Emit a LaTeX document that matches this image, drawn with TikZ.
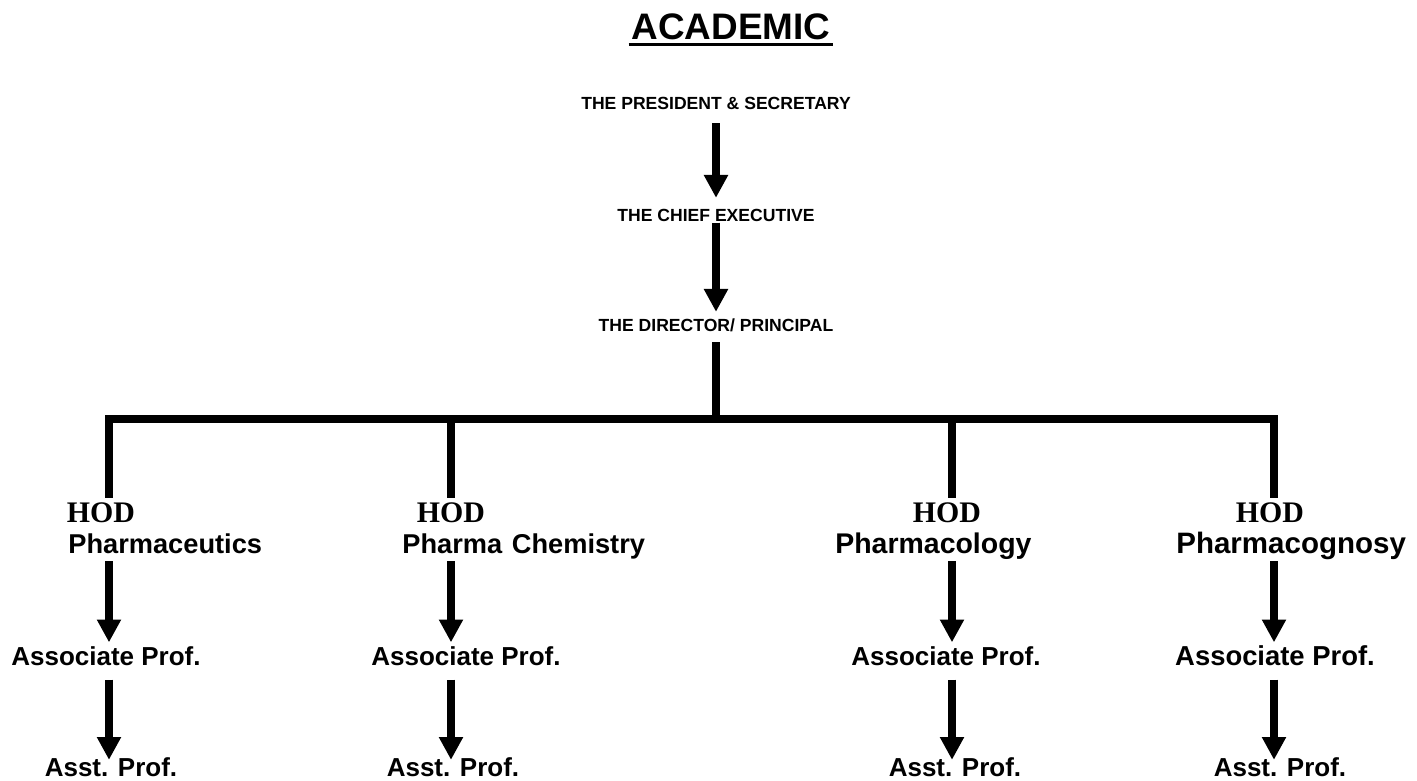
\documentclass[tikz,border=0pt]{standalone}
\usepackage{fontspec}
\setmainfont{Liberation Sans}
\newfontfamily\hodfont{Liberation Serif}
\usetikzlibrary{arrows.meta,calc}
\tikzset{heading/.style={
    inner sep=0pt,text depth=0pt,text height=15pt,
    font=\fontsize{21}{21}\selectfont\bfseries}}
\tikzset{boss/.style={
    inner sep=0pt,text depth=0pt,text height=7.2pt,
    font=\fontsize{10}{12}\selectfont\bfseries}}
\tikzset{hod/.style={
    inner sep=0pt,text depth=0pt,text height=11.25pt,
    font=\hodfont\fontsize{17}{17}\selectfont\bfseries}}
\tikzset{dept/.style={
    inner sep=0pt,text depth=0pt,text height=11.1pt,anchor=west,
    font=\fontsize{15.5}{16}\selectfont\bfseries}}
\tikzset{prof/.style={
    inner sep=0pt,text depth=0pt,text height=10.6pt,
    font=\fontsize{14.8}{16}\selectfont\bfseries}}
\tikzset{arrowdown/.style={
    line width=4.5pt,
    -{Triangle[width=13pt,length=13pt]}}}
\tikzset{link/.style={
    line width=4.5pt,
    line join=miter}}

\begin{document}
\begin{tikzpicture}[x=0.02cm,y=-0.02cm]
\useasboundingbox (0,0) rectangle (1417,781);

\coordinate (c0) at (716,419);
\coordinate (c1) at (109,419);
\coordinate (c2) at (451,419);
\coordinate (c3) at (952,419);
\coordinate (c4) at (1274,419);

\node[heading] (academic) at (731,26.5) {ACADEMIC};
\draw[line width=1.7pt] ([xshift=-1.5pt,yshift=-2.5pt]academic.south west) -- ([xshift=1pt,yshift=-2.5pt]academic.south east);

\node[boss] (pres) at (716,103) {THE PRESIDENT \& SECRETARY};
\node[boss] (chief) at (716,215) {THE CHIEF EXECUTIVE};
\node[boss] (dir) at (716,325.5) {THE DIRECTOR/ PRINCIPAL};

\draw[arrowdown,shorten <=0.27cm,shorten >=0.21cm] (pres) -- (chief);
\draw[arrowdown,shorten <=0.02cm,shorten >=0.14cm] (chief) -- (dir);
\draw[link,shorten <=0.2cm] (dir) -- (c0);

\node[hod] (hod1) at (101,513) {HOD};
\node[hod] (hod2) at (451,513) {HOD};
\node[hod] (hod3) at (947,513) {HOD};
\node[hod] (hod4) at (1270,513) {HOD};

\draw[link,shorten <=0.1cm,shorten >=0.1cm] (hod1.north -| c1) -- (c1) -- (c4) -- (hod4.north -| c4);
\draw[link,shorten >=0.1cm] (c2) -- (hod2.north -| c2);
\draw[link,shorten >=0.1cm] (c3) -- (hod3.north -| c3);

\node[dept] (pceutics) at (68,544) {Pharmaceutics};
\node[dept] (pchem) at (402,544) {Pharma\hspace{5.5pt}Chemistry};
\node[dept,font=\fontsize{16.2}{17}\selectfont\bfseries] (pcology) at (835,544) {Pharmacology};
\node[dept,font=\fontsize{16.8}{17}\selectfont\bfseries] (pcognosy) at (1176,544) {Pharmacognosy};

\node[prof] (assoc1) at (106,656) {Associate Prof.};
\node[prof] (assoc2) at (466,656) {Associate Prof.};
\node[prof] (assoc3) at (946,656) {Associate Prof.};
\node[prof,font=\fontsize{15.6}{16}\selectfont\bfseries] (assoc4) at (1275,656) {Associate Prof.};

\node[prof] (asst1) at (111,767) {Asst. Prof.};
\node[prof] (asst2) at (453,767) {Asst. Prof.};
\node[prof] (asst3) at (955,767) {Asst. Prof.};
\node[prof] (asst4) at (1280,767) {Asst. Prof.};

\draw[arrowdown,shorten <=0.14cm,shorten >=0.08cm] (pceutics.south -| c1) -- (assoc1.north -| c1);
\draw[arrowdown,shorten <=0.14cm,shorten >=0.08cm] (pchem.south -| c2) -- (assoc2.north -| c2);
\draw[arrowdown,shorten <=0.14cm,shorten >=0.08cm] (pcology.south -| c3) -- (assoc3.north -| c3);
\draw[arrowdown,shorten <=0.14cm,shorten >=0.08cm] (pcognosy.south -| c4) -- (assoc4.north -| c4);

\draw[arrowdown,shorten <=0.28cm,shorten >=-0.05cm] (assoc1.south -| c1) -- (asst1.north -| c1);
\draw[arrowdown,shorten <=0.28cm,shorten >=-0.05cm] (assoc2.south -| c2) -- (asst2.north -| c2);
\draw[arrowdown,shorten <=0.28cm,shorten >=-0.05cm] (assoc3.south -| c3) -- (asst3.north -| c3);
\draw[arrowdown,shorten <=0.28cm,shorten >=-0.05cm] (assoc4.south -| c4) -- (asst4.north -| c4);
\end{tikzpicture}
\end{document}
